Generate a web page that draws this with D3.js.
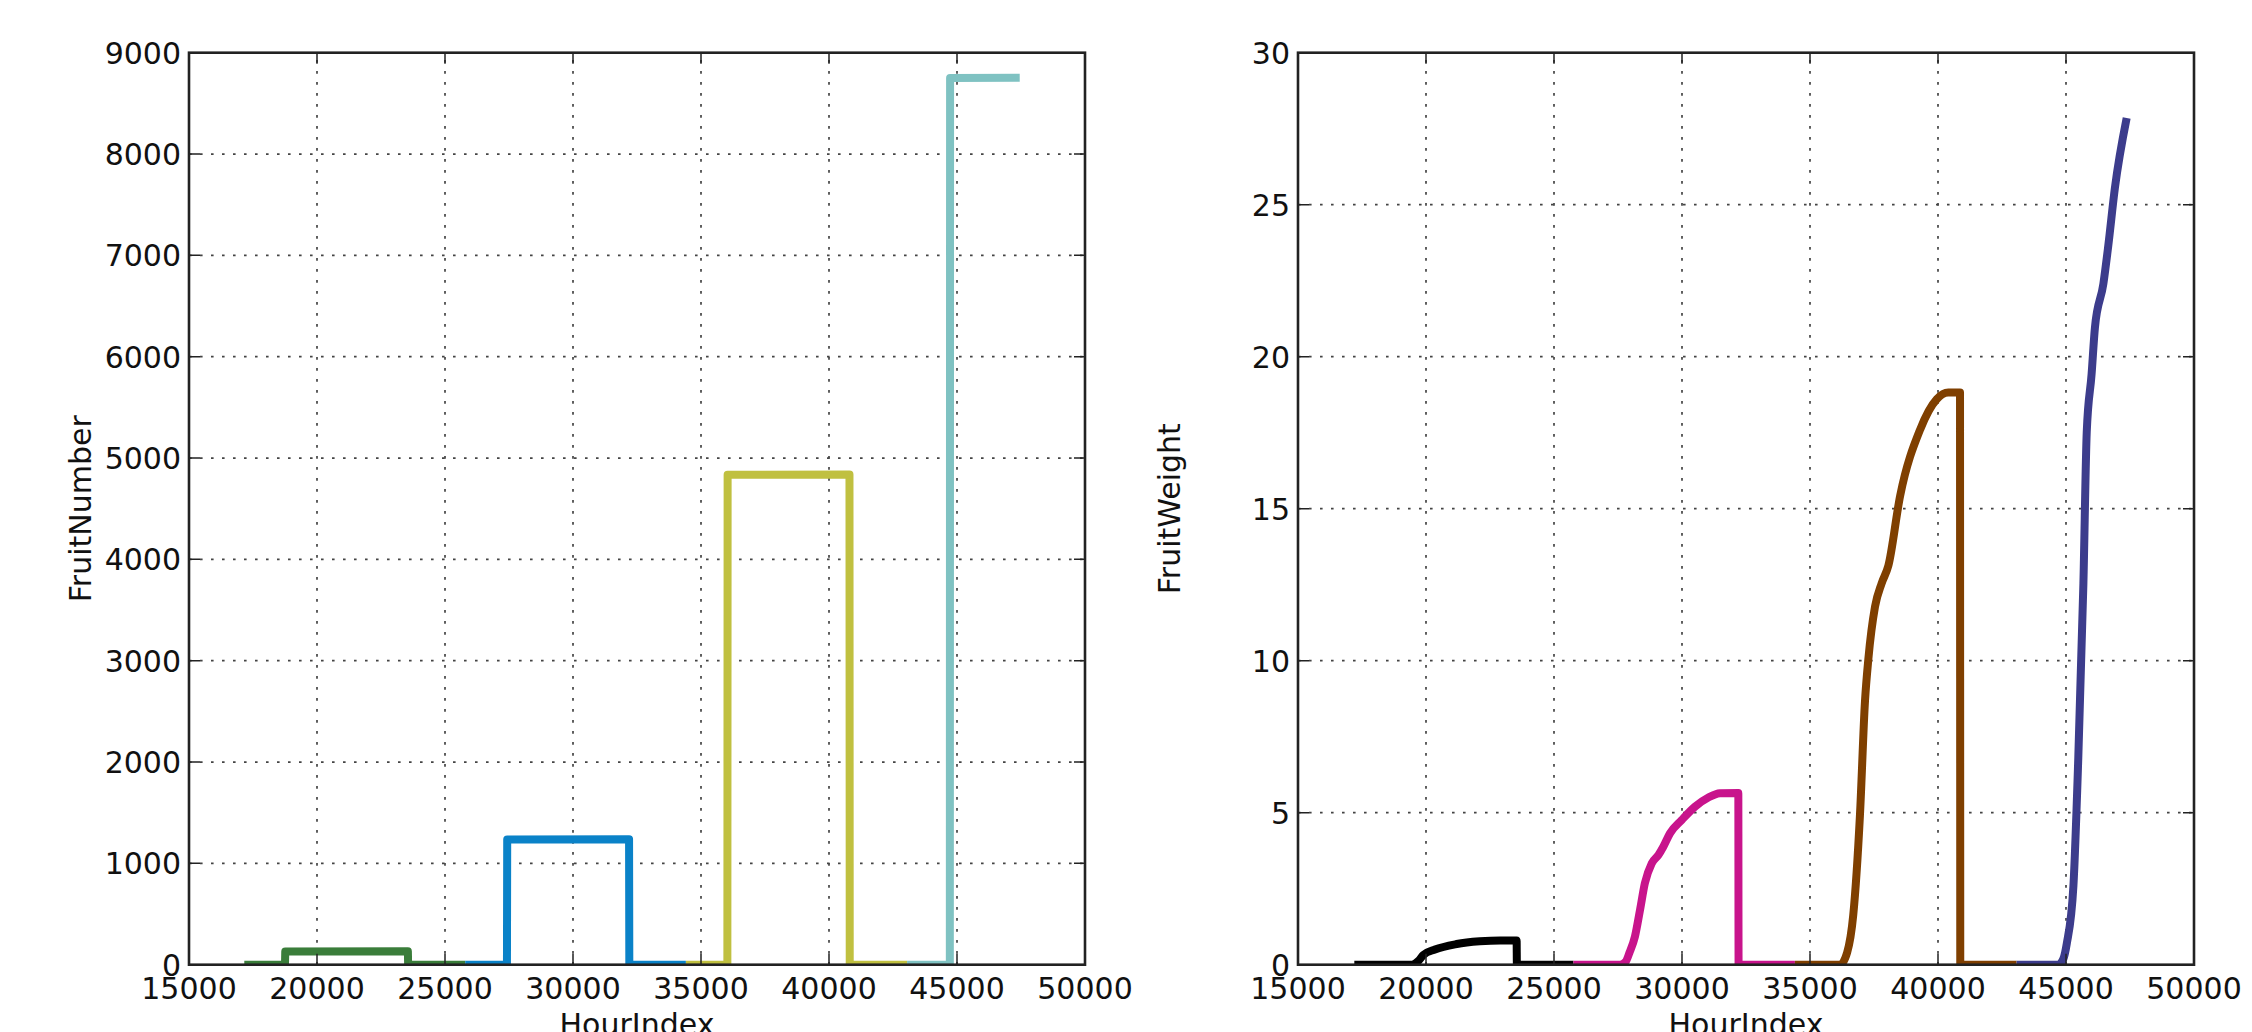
<!DOCTYPE html>
<html>
<head>
<meta charset="utf-8">
<script src="https://cdn.jsdelivr.net/npm/d3@7"></script>
<style>
	body { margin: 0; background: #fff; }
	svg { display: block; font-family: "DejaVu Sans", sans-serif; }
</style>
</head>
<body>
<svg id="chart_svg"></svg>
<script>
// [HourIndex, value] pairs
const numberGreen = [[17160, 0], [18750, 0], [18760, 130], [23550, 132], [23560, 0], [25790, 0]];
const numberBlue = [[25790, 0], [27420, 0], [27430, 1235], [32190, 1238], [32200, 0], [34410, 0]];
const numberYellow = [[34410, 0], [36030, 0], [36040, 4835], [40800, 4838], [40810, 0], [43050, 0]];
const numberTeal = [[43050, 0], [44720, 0], [44730, 8750], [47450, 8752]];

const weightBlack = [[17200, 0], [19450, 0], [19700, 0.12], [19900, 0.32], [20350, 0.5], [21200, 0.68],
	[22100, 0.77], [22900, 0.8], [23540, 0.8], [23550, 0], [25760, 0]];
const weightMagenta = [[25760, 0], [27580, 0], [27800, 0.1], [27950, 0.4], [28160, 0.92], [28360, 1.8],
	[28550, 2.68], [28820, 3.34], [29080, 3.61], [29270, 3.88], [29530, 4.32], [29990, 4.76], [30510, 5.2],
	[31030, 5.5], [31480, 5.64], [32200, 5.65], [32210, 0], [34410, 0]];
const weightBrown = [[34410, 0], [36170, 0], [36450, 0.4], [36690, 1.64], [36950, 4.9], [37150, 8.7],
	[37280, 10.06], [37540, 11.78], [37800, 12.55], [38060, 13.12], [38520, 15.42], [39300, 17.6],
	[39950, 18.6], [40400, 18.82], [40860, 18.82], [40870, 0], [43070, 0]];
const weightNavy = [[43070, 0], [44700, 0], [44900, 0.2], [45030, 0.69], [45290, 2.6], [45480, 6.8],
	[45680, 12.55], [45810, 17.52], [46000, 19.43], [46130, 20.96], [46460, 22.4], [46650, 23.64],
	[46910, 25.55], [47370, 27.85]];

const hourTicks = [15000, 20000, 25000, 30000, 35000, 40000, 45000, 50000];
const numberTicks = [0, 1000, 2000, 3000, 4000, 5000, 6000, 7000, 8000, 9000];
const weightTicks = [0, 5, 10, 15, 20, 25, 30];

const width = 2252;
const height = 1032;

const svg = d3.select("#chart_svg")
	.attr("width", width)
	.attr("height", height);

svg.append("rect")
	.attr("width", width)
	.attr("height", height)
	.attr("fill", "#fff");

function drawPanel(id, left, yMax, yTicks, yLabel, labelX, curve, series) {
	const top = 52.7;
	const bottom = 964.7;
	const right = left + 896;

	const x = d3.scaleLinear().domain([15000, 50000]).range([left, right]);
	const y = d3.scaleLinear().domain([0, yMax]).range([bottom, top]);

	const g = svg.append("g");

	g.append("clipPath")
		.attr("id", id)
		.append("rect")
		.attr("x", left)
		.attr("y", top)
		.attr("width", right - left)
		.attr("height", bottom - top);

	// dotted grid
	const grid = g.append("g")
		.attr("stroke", "#444")
		.attr("stroke-width", 1.7)
		.attr("stroke-dasharray", "2.6,8.4");

	grid.selectAll(".vgrid")
		.data(hourTicks.slice(1, -1))
		.enter().append("line")
		.attr("x1", d => x(d)).attr("x2", d => x(d))
		.attr("y1", bottom).attr("y2", top);

	grid.selectAll(".hgrid")
		.data(yTicks.slice(1, -1))
		.enter().append("line")
		.attr("x1", left).attr("x2", right)
		.attr("y1", d => y(d)).attr("y2", d => y(d));

	const line = d3.line()
		.curve(curve)
		.x(d => x(d[0]))
		.y(d => y(d[1]));

	g.append("g")
		.attr("clip-path", `url(#${id})`)
		.selectAll("path")
		.data(series)
		.enter().append("path")
		.attr("d", d => line(d.values))
		.attr("fill", "none")
		.attr("stroke", d => d.color)
		.attr("stroke-width", 8)
		.attr("stroke-linejoin", "round");

	// ticks point inwards, on all four sides
	const tickLen = 11;
	const ticks = g.append("g")
		.attr("stroke", "#222")
		.attr("stroke-width", 1.5);

	ticks.selectAll(".xt")
		.data(hourTicks)
		.enter().append("path")
		.attr("d", d => `M${x(d)},${bottom}v${-tickLen}M${x(d)},${top}v${tickLen}`);

	ticks.selectAll(".yt")
		.data(yTicks)
		.enter().append("path")
		.attr("d", d => `M${left},${y(d)}h${tickLen}M${right},${y(d)}h${-tickLen}`);

	g.append("rect")
		.attr("x", left)
		.attr("y", top)
		.attr("width", right - left)
		.attr("height", bottom - top)
		.attr("fill", "none")
		.attr("stroke", "#222")
		.attr("stroke-width", 2.6);

	g.selectAll(".xlab")
		.data(hourTicks)
		.enter().append("text")
		.attr("x", d => x(d))
		.attr("y", 999)
		.attr("text-anchor", "middle")
		.style("font-size", "30px")
		.style("fill", "#111")
		.text(d => d);

	g.selectAll(".ylab")
		.data(yTicks)
		.enter().append("text")
		.attr("x", left - 8)
		.attr("y", d => y(d) + 11)
		.attr("text-anchor", "end")
		.style("font-size", "30px")
		.style("fill", "#111")
		.text(d => d);

	g.append("text")
		.attr("x", (left + right) / 2)
		.attr("y", 1035)
		.attr("text-anchor", "middle")
		.style("font-size", "30px")
		.style("fill", "#111")
		.text("HourIndex");

	g.append("text")
		.attr("transform", `translate(${labelX}, ${(top + bottom) / 2}) rotate(-90)`)
		.attr("text-anchor", "middle")
		.style("font-size", "30px")
		.style("fill", "#111")
		.text(yLabel);
}

drawPanel("clip-number", 189, 9000, numberTicks, "FruitNumber", 91, d3.curveLinear, [
	{ values: numberGreen, color: "#3a7d3a" },
	{ values: numberBlue, color: "#0a82c8" },
	{ values: numberYellow, color: "#c0c040" },
	{ values: numberTeal, color: "#7fc2c2" }
]);

drawPanel("clip-weight", 1298, 30, weightTicks, "FruitWeight", 1180, d3.curveMonotoneX, [
	{ values: weightBlack, color: "#000000" },
	{ values: weightMagenta, color: "#c8148c" },
	{ values: weightBrown, color: "#7f3f00" },
	{ values: weightNavy, color: "#3c3c8c" }
]);
</script>
</body>
</html>
